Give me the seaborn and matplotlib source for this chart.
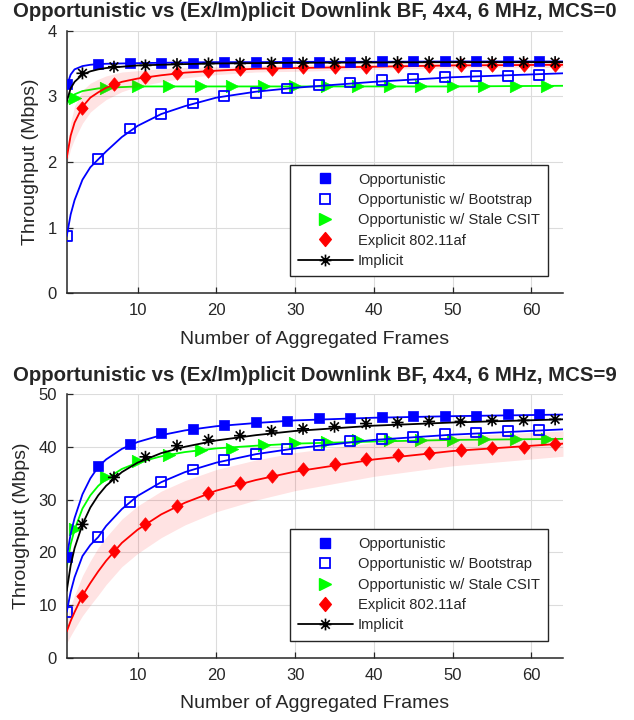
import matplotlib
matplotlib.use("Agg")
import matplotlib.pyplot as plt
from matplotlib.path import Path
from matplotlib.lines import Line2D
import seaborn as sns

# ---------------- data ----------------
x_sq = [1, 5, 9, 13, 17, 21, 25, 29, 33, 37, 41, 45, 49, 53, 57, 61]
x_tri = [2, 6, 10, 14, 18, 22, 26, 30, 34, 38, 42, 46, 50, 54, 58, 62]
x_odd = [3, 7, 11, 15, 19, 23, 27, 31, 35, 39, 43, 47, 51, 55, 59, 63]
x_fit = [1, 1.5, 2, 3, 4, 5, 6, 8, 10, 13, 16, 20, 25, 30, 40, 50, 64]

labels = ["Opportunistic", "Opportunistic w/ Bootstrap",
          "Opportunistic w/ Stale CSIT", "Explicit 802.11af", "Implicit"]

# MCS = 0 (top)
t_opp = [3.19, 3.49, 3.50, 3.51, 3.51, 3.52, 3.52, 3.52, 3.52, 3.52, 3.53, 3.53, 3.53, 3.53, 3.53, 3.53]
t_boot = [0.87, 2.04, 2.51, 2.73, 2.89, 3.00, 3.05, 3.12, 3.17, 3.21, 3.25, 3.27, 3.29, 3.31, 3.31, 3.33]
t_stale = [2.98, 3.13, 3.15, 3.15, 3.15, 3.15, 3.15, 3.15, 3.15, 3.15, 3.15, 3.15, 3.15, 3.15, 3.15, 3.15]
t_expl = [2.82, 3.19, 3.29, 3.35, 3.39, 3.41, 3.42, 3.44, 3.45, 3.45, 3.46, 3.46, 3.47, 3.47, 3.48, 3.48]
t_impl = [3.35, 3.45, 3.47, 3.49, 3.50, 3.50, 3.51, 3.51, 3.51, 3.52, 3.52, 3.52, 3.52, 3.52, 3.52, 3.52]

t_opp_fit = [3.15, 3.33, 3.41, 3.46, 3.48, 3.49, 3.495, 3.50, 3.505, 3.51, 3.515, 3.52, 3.52, 3.525, 3.525, 3.53, 3.53]
t_boot_fit = [0.87, 1.20, 1.42, 1.73, 1.92, 2.04, 2.16, 2.38, 2.55, 2.73, 2.85, 2.98, 3.07, 3.13, 3.22, 3.29, 3.35]
t_stale_fit = [2.88, 2.97, 3.03, 3.08, 3.10, 3.12, 3.13, 3.14, 3.15, 3.15, 3.15, 3.15, 3.15, 3.15, 3.15, 3.15, 3.16]
t_expl_fit = [2.06, 2.40, 2.60, 2.84, 2.98, 3.06, 3.13, 3.22, 3.27, 3.32, 3.36, 3.39, 3.42, 3.43, 3.45, 3.47, 3.48]
t_impl_fit = [2.92, 3.12, 3.22, 3.33, 3.38, 3.41, 3.43, 3.45, 3.47, 3.48, 3.49, 3.50, 3.505, 3.51, 3.515, 3.52, 3.52]
t_expl_lo = [1.96, 2.20, 2.35, 2.59, 2.76, 2.86, 2.95, 3.07, 3.15, 3.22, 3.28, 3.33, 3.37, 3.38, 3.41, 3.43, 3.44]
t_expl_hi = [2.16, 2.60, 2.85, 3.09, 3.20, 3.26, 3.31, 3.37, 3.39, 3.42, 3.44, 3.45, 3.47, 3.48, 3.49, 3.51, 3.52]

# MCS = 9 (bottom)
b_opp = [19.2, 36.4, 40.5, 42.6, 43.4, 44.1, 44.6, 44.8, 45.4, 45.4, 45.6, 45.9, 45.9, 45.9, 46.2, 46.2]
b_boot = [8.7, 22.9, 29.6, 33.4, 35.7, 37.5, 38.6, 39.6, 40.3, 41.1, 41.5, 41.9, 42.4, 42.7, 43.0, 43.2]
b_stale = [24.5, 34.2, 37.4, 38.5, 39.4, 39.6, 40.3, 40.7, 40.9, 41.2, 41.2, 41.2, 41.3, 41.4, 41.4, 41.4]
b_expl = [11.8, 20.3, 25.4, 28.7, 31.3, 33.1, 34.5, 35.7, 36.7, 37.7, 38.4, 38.9, 39.4, 39.7, 40.0, 40.5]
b_impl = [25.3, 34.2, 38.1, 40.2, 41.3, 42.1, 43.0, 43.4, 43.8, 44.4, 44.6, 44.8, 44.8, 45.0, 45.0, 45.2]

b_opp_fit = [19.0, 23.5, 26.5, 31.0, 34.0, 36.2, 37.6, 39.6, 40.9, 42.2, 43.1, 43.9, 44.5, 45.0, 45.5, 45.8, 46.1]
b_boot_fit = [8.7, 12.5, 15.3, 19.3, 21.4, 22.9, 25.0, 28.2, 30.7, 33.3, 35.2, 37.0, 38.6, 39.7, 41.3, 42.3, 43.3]
b_stale_fit = [17.2, 21.5, 24.3, 28.3, 30.8, 32.6, 33.9, 35.8, 37.0, 38.2, 39.0, 39.7, 40.2, 40.6, 41.0, 41.3, 41.5]
b_expl_fit = [5.0, 7.0, 8.7, 11.8, 14.2, 16.4, 18.4, 21.8, 24.3, 27.2, 29.4, 31.7, 33.7, 35.3, 37.6, 39.2, 40.6]
b_impl_fit = [12.7, 17.5, 20.8, 25.3, 28.5, 30.8, 32.6, 35.2, 37.0, 38.8, 40.0, 41.2, 42.2, 43.0, 44.0, 44.6, 45.2]
b_expl_lo = [2.8, 4.2, 5.5, 8.0, 10.0, 11.9, 13.9, 17.3, 19.8, 22.8, 25.2, 27.7, 29.9, 31.7, 34.4, 36.4, 38.2]
b_expl_hi = [7.2, 9.8, 11.9, 15.6, 18.4, 20.9, 22.9, 26.3, 28.8, 31.6, 33.6, 35.7, 37.5, 38.9, 40.8, 42.0, 43.0]

titles = ["Opportunistic vs (Ex/Im)plicit Downlink BF, 4x4, 6 MHz, MCS=0",
          "Opportunistic vs (Ex/Im)plicit Downlink BF, 4x4, 6 MHz, MCS=9"]
yticks_top = [0, 1, 2, 3, 4]
yticks_bot = [0, 10, 20, 30, 40, 50]
xticks = [10, 20, 30, 40, 50, 60]

# ---------------- style ----------------
sns.set_theme(style="white")
plt.rcParams["font.family"] = ["Liberation Sans", "DejaVu Sans"]
plt.rcParams["text.color"] = "#262626"
plt.rcParams["axes.labelcolor"] = "#262626"

BLUE, GREEN, RED, BLACK = "#0000ff", "#00ff00", "#ff0000", "#000000"
star = Path([(-1, 0), (1, 0), (0, -1), (0, 1),
             (-0.72, -0.72), (0.72, 0.72), (-0.72, 0.72), (0.72, -0.72)],
            [Path.MOVETO, Path.LINETO] * 4)
diamond = Path([(0, 1), (0.84, 0), (0, -1), (-0.84, 0), (0, 1)],
               [Path.MOVETO, Path.LINETO, Path.LINETO, Path.LINETO, Path.CLOSEPOLY])

fig = plt.figure(figsize=(6.34, 7.2), dpi=100)
ax_top = fig.add_axes([0.1052, 0.5925, 0.7828, 0.365])
ax_bot = fig.add_axes([0.1052, 0.0861, 0.7828, 0.3667])

LW = 1.3


def draw(ax, opp, boot, stale, expl, impl, opp_f, boot_f, stale_f, expl_f, impl_f, lo, hi,
         yticks, title):
    # stale CSIT
    sns.lineplot(x=x_fit, y=stale_f, color=GREEN, lw=LW, ax=ax, zorder=2)
    sns.scatterplot(x=x_tri, y=stale, marker=">", s=80, color=GREEN, edgecolor=GREEN,
                    linewidth=0.5, ax=ax, zorder=2.1)
    # band
    ax.fill_between(x_fit, lo, hi, color=RED, alpha=0.11, lw=0, zorder=2.5)
    # bootstrap
    sns.lineplot(x=x_fit, y=boot_f, color=BLUE, lw=LW, ax=ax, zorder=3)
    sns.scatterplot(x=x_sq, y=boot, marker="s", s=50, facecolor="none", edgecolor=BLUE,
                    linewidth=1.3, ax=ax, zorder=3.1)
    # explicit
    sns.lineplot(x=x_fit, y=expl_f, color=RED, lw=LW, ax=ax, zorder=3.2)
    sns.scatterplot(x=x_odd, y=expl, marker=diamond, s=95, color=RED, edgecolor=RED,
                    linewidth=0.5, ax=ax, zorder=3.3)
    # opportunistic
    sns.lineplot(x=x_fit, y=opp_f, color=BLUE, lw=LW, ax=ax, zorder=3.4)
    sns.scatterplot(x=x_sq, y=opp, marker="s", s=55, color=BLUE, edgecolor=BLUE,
                    linewidth=0.5, ax=ax, zorder=3.5)
    # implicit
    sns.lineplot(x=x_fit, y=impl_f, color=BLACK, lw=LW, ax=ax, zorder=3.6)
    sns.scatterplot(x=x_odd, y=impl, marker=star, s=75, facecolor="none", edgecolor=BLACK,
                    linewidth=1.2, ax=ax, zorder=3.7)

    ax.set_xlim(1, 64)
    ax.set_ylim(yticks[0], yticks[-1])
    ax.set_xticks(xticks)
    ax.set_yticks(yticks)
    ax.grid(True, color="#dcdcdc", lw=0.8)
    ax.set_axisbelow(True)
    for s in ("top", "right"):
        ax.spines[s].set_visible(False)
    for s in ("left", "bottom"):
        ax.spines[s].set_color("#262626")
        ax.spines[s].set_linewidth(1.1)
    ax.tick_params(direction="in", length=4, width=0.9, colors="#262626",
                   labelsize=12, pad=7, left=True, bottom=True)
    ax.set_xlabel("Number of Aggregated Frames", fontsize=14, labelpad=9)
    ax.set_ylabel("Throughput (Mbps)", fontsize=14, labelpad=6)
    ax.set_title(title, fontsize=14.7, fontweight="bold", pad=9.5)

    handles = [
        Line2D([], [], ls="none", marker="s", ms=7.2, color=BLUE, mec=BLUE),
        Line2D([], [], ls="none", marker="s", ms=7.0, mfc="none", mec=BLUE, mew=1.3),
        Line2D([], [], ls="none", marker=">", ms=9.0, color=GREEN, mec=GREEN),
        Line2D([], [], ls="none", marker=diamond, ms=10, color=RED, mec=RED),
        Line2D([], [], ls="-", lw=LW, marker=star, ms=8.5, color=BLACK, mfc="none", mew=1.2),
    ]
    leg = ax.legend(handles, labels, loc="lower left", bbox_to_anchor=(0.449, 0.066),
                    fontsize=10.6, frameon=True, fancybox=False, framealpha=1,
                    edgecolor="#262626", handlelength=3.75, handletextpad=0.34,
                    borderpad=0.55, labelspacing=0.43, borderaxespad=0)
    leg.get_frame().set_linewidth(1.0)
    leg.set_zorder(10)


draw(ax_top, t_opp, t_boot, t_stale, t_expl, t_impl, t_opp_fit, t_boot_fit, t_stale_fit,
     t_expl_fit, t_impl_fit, t_expl_lo, t_expl_hi, yticks_top, titles[0])
draw(ax_bot, b_opp, b_boot, b_stale, b_expl, b_impl, b_opp_fit, b_boot_fit, b_stale_fit,
     b_expl_fit, b_impl_fit, b_expl_lo, b_expl_hi, yticks_bot, titles[1])

fig.savefig("out.png", dpi=100, facecolor="white")
